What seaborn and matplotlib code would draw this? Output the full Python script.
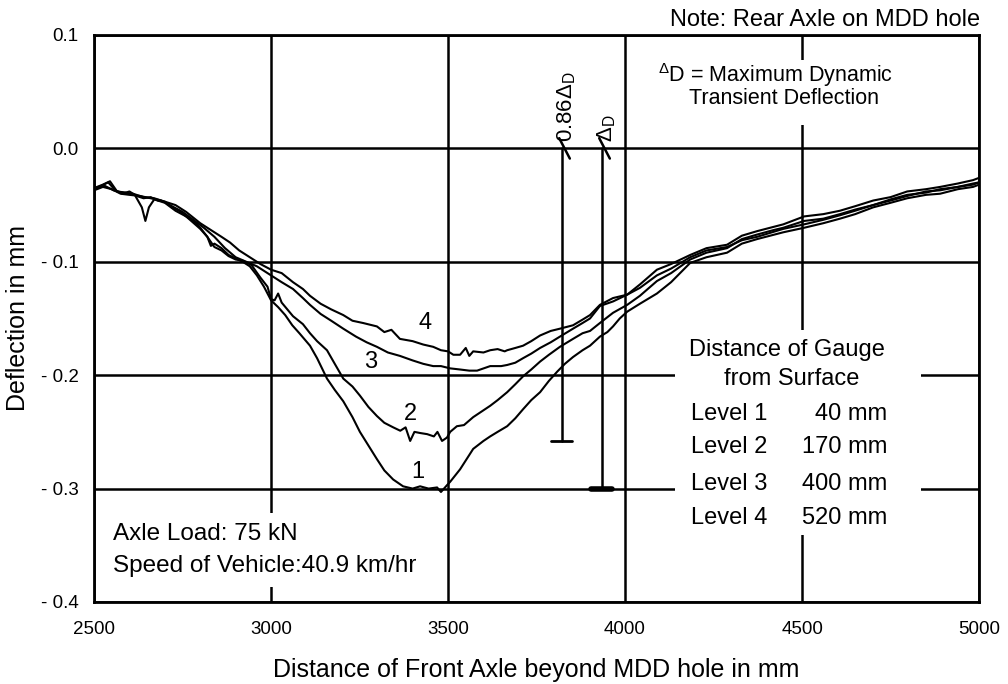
import matplotlib
matplotlib.use("Agg")
import matplotlib.pyplot as plt
import seaborn as sns
import pandas as pd
from matplotlib.patches import Rectangle

# ---------------- data ----------------
x_level1 = [2500, 2520, 2540, 2560, 2580, 2600, 2620, 2640, 2660, 2680, 2700, 2720, 2740, 2760, 2780,
            2800, 2820, 2830, 2840, 2860, 2880, 2900, 2920, 2940, 2960, 2980, 3000, 3020, 3040, 3060,
            3080, 3110, 3130, 3158, 3180, 3204, 3230, 3251, 3275, 3299, 3320, 3345, 3373, 3400, 3421,
            3445, 3469, 3480, 3497, 3506, 3534, 3571, 3600, 3619, 3640, 3667, 3690, 3712, 3735, 3760,
            3785, 3808, 3830, 3853, 3880, 3901, 3929, 3950, 3966, 3985, 4006, 4042, 4090, 4130, 4184,
            4230, 4288, 4330, 4373, 4447, 4506, 4560, 4607, 4650, 4701, 4750, 4797, 4850, 4890, 4940,
            4983, 5000]
y_level1 = [-0.036, -0.033, -0.030, -0.037, -0.040, -0.038, -0.042, -0.044, -0.043, -0.046, -0.047,
            -0.052, -0.055, -0.060, -0.064, -0.070, -0.078, -0.086, -0.084, -0.088, -0.094, -0.097,
            -0.100, -0.104, -0.112, -0.122, -0.134, -0.140, -0.147, -0.156, -0.163, -0.174, -0.185,
            -0.203, -0.213, -0.223, -0.237, -0.250, -0.262, -0.274, -0.284, -0.292, -0.298, -0.300,
            -0.298, -0.300, -0.299, -0.303, -0.297, -0.294, -0.283, -0.265, -0.258, -0.254, -0.250,
            -0.245, -0.238, -0.230, -0.222, -0.215, -0.205, -0.197, -0.190, -0.184, -0.178, -0.174,
            -0.166, -0.162, -0.157, -0.150, -0.144, -0.137, -0.128, -0.118, -0.101, -0.096, -0.092,
            -0.084, -0.080, -0.074, -0.070, -0.066, -0.062, -0.058, -0.052, -0.048, -0.044, -0.041,
            -0.040, -0.036, -0.034, -0.032]

x_level2 = [2500, 2525, 2545, 2565, 2590, 2615, 2635, 2645, 2655, 2670, 2700, 2730, 2760, 2800, 2820,
            2840, 2860, 2880, 2900, 2920, 2945, 2970, 2990, 3000, 3010, 3020, 3030, 3062, 3090, 3110,
            3130, 3158, 3180, 3204, 3230, 3251, 3275, 3299, 3320, 3345, 3365, 3380, 3393, 3405, 3421,
            3441, 3460, 3470, 3483, 3497, 3506, 3525, 3545, 3571, 3595, 3619, 3640, 3667, 3690, 3712,
            3735, 3760, 3785, 3816, 3853, 3880, 3901, 3929, 3966, 4006, 4042, 4090, 4130, 4184, 4230,
            4288, 4330, 4373, 4420, 4447, 4506, 4560, 4607, 4650, 4701, 4750, 4797, 4850, 4890, 4940,
            4983, 5000]
y_level2 = [-0.035, -0.032, -0.029, -0.038, -0.039, -0.041, -0.052, -0.064, -0.052, -0.045, -0.048,
            -0.055, -0.060, -0.071, -0.078, -0.087, -0.090, -0.095, -0.098, -0.099, -0.103, -0.114,
            -0.122, -0.133, -0.134, -0.128, -0.136, -0.148, -0.155, -0.163, -0.170, -0.178, -0.190,
            -0.203, -0.210, -0.218, -0.228, -0.236, -0.242, -0.246, -0.249, -0.246, -0.258, -0.250,
            -0.251, -0.252, -0.254, -0.250, -0.258, -0.255, -0.250, -0.245, -0.244, -0.237, -0.232,
            -0.227, -0.222, -0.215, -0.208, -0.201, -0.195, -0.188, -0.182, -0.175, -0.168, -0.163,
            -0.161, -0.154, -0.145, -0.138, -0.130, -0.117, -0.110, -0.098, -0.092, -0.088, -0.080,
            -0.076, -0.072, -0.070, -0.064, -0.062, -0.058, -0.054, -0.050, -0.046, -0.042, -0.038,
            -0.037, -0.034, -0.031, -0.030]

x_level3 = [2500, 2525, 2550, 2575, 2600, 2630, 2660, 2690, 2720, 2750, 2780, 2810, 2840, 2870, 2900,
            2930, 2960, 3000, 3030, 3062, 3090, 3110, 3140, 3170, 3204, 3240, 3270, 3299, 3330, 3364,
            3400, 3430, 3458, 3480, 3506, 3534, 3560, 3582, 3619, 3650, 3667, 3690, 3712, 3735, 3760,
            3790, 3816, 3853, 3880, 3901, 3929, 3966, 4006, 4042, 4090, 4130, 4184, 4230, 4288, 4330,
            4373, 4447, 4506, 4560, 4607, 4650, 4701, 4750, 4797, 4850, 4890, 4940, 4983, 5000]
y_level3 = [-0.037, -0.034, -0.036, -0.040, -0.041, -0.042, -0.044, -0.046, -0.051, -0.056, -0.063,
            -0.070, -0.078, -0.088, -0.096, -0.100, -0.104, -0.112, -0.118, -0.124, -0.132, -0.138,
            -0.146, -0.152, -0.159, -0.166, -0.171, -0.175, -0.180, -0.183, -0.187, -0.190, -0.192,
            -0.192, -0.194, -0.195, -0.196, -0.196, -0.192, -0.192, -0.191, -0.189, -0.185, -0.181,
            -0.176, -0.171, -0.166, -0.159, -0.154, -0.150, -0.139, -0.135, -0.129, -0.123, -0.112,
            -0.106, -0.096, -0.090, -0.087, -0.081, -0.078, -0.071, -0.067, -0.063, -0.059, -0.055,
            -0.050, -0.045, -0.041, -0.039, -0.036, -0.034, -0.032, -0.030]

x_level4 = [2500, 2530, 2555, 2580, 2610, 2640, 2670, 2700, 2730, 2760, 2800, 2830, 2860, 2884, 2910,
            2940, 2970, 3000, 3030, 3062, 3090, 3110, 3140, 3170, 3204, 3230, 3260, 3299, 3320, 3340,
            3364, 3400, 3430, 3458, 3480, 3500, 3515, 3534, 3550, 3560, 3571, 3600, 3619, 3640, 3660,
            3667, 3690, 3712, 3735, 3760, 3790, 3816, 3853, 3880, 3901, 3929, 3966, 4006, 4042, 4090,
            4130, 4184, 4230, 4288, 4330, 4373, 4447, 4506, 4560, 4607, 4650, 4701, 4750, 4797, 4850,
            4890, 4940, 4983, 5000]
y_level4 = [-0.036, -0.033, -0.037, -0.039, -0.040, -0.043, -0.044, -0.047, -0.050, -0.056, -0.066,
            -0.072, -0.078, -0.083, -0.090, -0.096, -0.102, -0.107, -0.110, -0.118, -0.124, -0.130,
            -0.137, -0.142, -0.147, -0.152, -0.154, -0.157, -0.162, -0.160, -0.168, -0.170, -0.173,
            -0.175, -0.178, -0.179, -0.182, -0.182, -0.176, -0.183, -0.179, -0.180, -0.178, -0.177,
            -0.179, -0.178, -0.176, -0.174, -0.170, -0.165, -0.161, -0.159, -0.156, -0.151, -0.147,
            -0.138, -0.132, -0.129, -0.120, -0.107, -0.102, -0.094, -0.088, -0.085, -0.077, -0.073,
            -0.067, -0.060, -0.058, -0.055, -0.051, -0.046, -0.043, -0.038, -0.036, -0.034, -0.031,
            -0.028, -0.026]

level_names = ["Level 1", "Level 2", "Level 3", "Level 4"]
level_depths = ["40 mm", "170 mm", "400 mm", "520 mm"]
curve_tags = ["1", "2", "3", "4"]
tag_x = [3415, 3393, 3280, 3435]
tag_y = [-0.285, -0.234, -0.188, -0.154]

x_ticks = [2500, 3000, 3500, 4000, 4500, 5000]
x_ticklabels = ["2500", "3000", "3500", "4000", "4500", "5000"]
y_ticks = [-0.4, -0.3, -0.2, -0.1, 0.0, 0.1]
y_ticklabels = ["- 0.4", "- 0.3", "- 0.2", "- 0.1", "0.0", "0.1"]

max_deflection = 0.30      # Delta_D
frac_deflection = 0.86     # 0.86 Delta_D
x_frac_line = 3822
x_max_line = 3935

# ---------------- style ----------------
sns.set_theme(style="white")
plt.rcParams["font.family"] = ["Liberation Sans", "DejaVu Sans"]
plt.rcParams["mathtext.fontset"] = "custom"
plt.rcParams["mathtext.rm"] = "Liberation Sans"
plt.rcParams["mathtext.it"] = "Liberation Sans:italic"
plt.rcParams["mathtext.bf"] = "Liberation Sans:bold"
for key in ["text.color", "axes.labelcolor", "xtick.color", "ytick.color"]:
    plt.rcParams[key] = "black"

frames = []
for name, xs, ys in zip(level_names, [x_level1, x_level2, x_level3, x_level4],
                        [y_level1, y_level2, y_level3, y_level4]):
    frames.append(pd.DataFrame({"x": xs, "y": ys, "level": name}))
df = pd.concat(frames, ignore_index=True)

fig = plt.figure(figsize=(10.08, 6.84), dpi=100)
ax = fig.add_axes([0.0933, 0.1199, 0.878, 0.829])

sns.lineplot(data=df, x="x", y="y", hue="level", units="level", estimator=None,
             palette=["black"] * 4, legend=False, lw=1.5, ax=ax, zorder=3)

ax.set_xlim(2500, 5000)
ax.set_ylim(-0.4, 0.1)
ax.set_xticks(x_ticks)
ax.set_xticklabels(x_ticklabels, fontsize=13.5)
ax.set_yticks(y_ticks)
ax.set_yticklabels(y_ticklabels, fontsize=13.5)
ax.tick_params(axis="both", length=0)
ax.tick_params(axis="x", pad=14)
ax.tick_params(axis="y", pad=11)
ax.set_axisbelow(True)
ax.grid(True, color="black", lw=1.8)
for s in ax.spines.values():
    s.set_color("black")
    s.set_linewidth(2)

ax.set_xlabel("Distance of Front Axle beyond MDD hole in mm", fontsize=18, labelpad=14)
ax.set_ylabel("Deflection in mm", fontsize=18, labelpad=8)

# white areas that interrupt the grid behind the text blocks
for (x0, y0, w, h) in [(0.628, 0.841, 0.311, 0.115),
                       (0.656, 0.118, 0.278, 0.362),
                       (0.007, 0.026, 0.384, 0.131)]:
    ax.add_patch(Rectangle((x0, y0), w, h, transform=ax.transAxes,
                           facecolor="white", edgecolor="none", zorder=1))

# curve tags
for t, tx, ty in zip(curve_tags, tag_x, tag_y):
    ax.text(tx, ty, t, fontsize=17, ha="center", va="center", zorder=4)

# dimension lines
ax.plot([x_frac_line, x_frac_line], [0.0, -frac_deflection * max_deflection],
        color="black", lw=1.8, zorder=3)
ax.plot([x_frac_line - 30, x_frac_line + 28],
        [-frac_deflection * max_deflection] * 2, color="black", lw=2, zorder=3)
ax.plot([x_max_line, x_max_line], [0.0, -max_deflection], color="black", lw=1.8, zorder=3)
ax.plot([x_max_line - 30, x_max_line + 28], [-max_deflection] * 2,
        color="black", lw=4, zorder=3)
for xl in (x_frac_line, x_max_line):
    ax.plot([xl - 8, xl + 22], [0.009, -0.009], color="black", lw=1.8, zorder=3)

ax.text(x_frac_line + 12, 0.006, r"0.86$\Delta_{\rm D}$", rotation=90, fontsize=16,
        ha="center", va="bottom", zorder=4)
ax.text(x_max_line + 14, 0.006, r"$\Delta_{\rm D}$", rotation=90, fontsize=16,
        ha="center", va="bottom", zorder=4)

ax.text(4093, 0.065, r"$^{\Delta}$D = Maximum Dynamic", fontsize=15.5, ha="left",
        va="center", zorder=4)
ax.text(4182, 0.044, "Transient Deflection", fontsize=15.5, ha="left", va="center", zorder=4)

# legend block
ax.text(4458, -0.178, "Distance of Gauge", fontsize=17, ha="center", va="center", zorder=4)
ax.text(4472, -0.203, "from Surface", fontsize=17, ha="center", va="center", zorder=4)
level_rows_y = [-0.234, -0.263, -0.296, -0.326]
for nm, dp, yy in zip(level_names, level_depths, level_rows_y):
    ax.text(4187, yy, nm, fontsize=17, ha="left", va="center", zorder=4)
    ax.text(4740, yy, dp, fontsize=17, ha="right", va="center", zorder=4)

ax.text(2554, -0.340, "Axle Load: 75 kN", fontsize=17.5, ha="left", va="center", zorder=4)
ax.text(2554, -0.368, "Speed of Vehicle:40.9 km/hr", fontsize=17.5, ha="left",
        va="center", zorder=4)

fig.text(0.972, 0.971, "Note: Rear Axle on MDD hole", fontsize=17, ha="right", va="center")

fig.savefig("out.png", dpi=100, facecolor="white")
